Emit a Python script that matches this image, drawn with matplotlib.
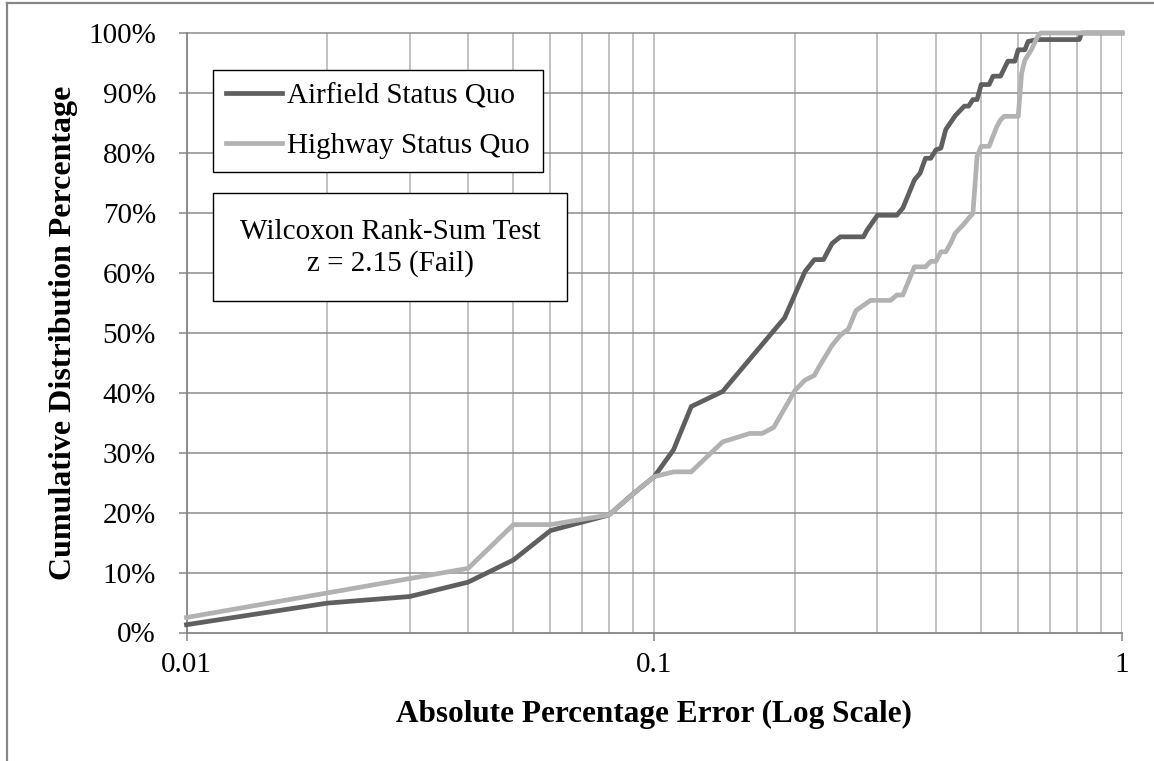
import matplotlib
matplotlib.use("Agg")
import matplotlib.pyplot as plt
from matplotlib.ticker import PercentFormatter, LogLocator, NullFormatter, FixedLocator, FixedFormatter
from matplotlib.patches import Rectangle
from matplotlib.lines import Line2D

plt.rcParams['font.family'] = ['Liberation Serif', 'DejaVu Serif']

# Datos (error absoluto, % acumulado)
airfield_x = [0.01, 0.02, 0.03, 0.04, 0.05, 0.06, 0.08, 0.09, 0.10, 0.11, 0.12, 0.14,
              0.19, 0.21, 0.22, 0.23, 0.24, 0.25, 0.28, 0.285, 0.30, 0.33, 0.34, 0.36,
              0.37, 0.38, 0.39, 0.40, 0.41, 0.42, 0.44, 0.46, 0.47, 0.48, 0.49, 0.50,
              0.52, 0.53, 0.55, 0.57, 0.59, 0.60, 0.62, 0.63, 0.66, 0.81, 0.82, 1.0]
airfield_y = [1.3, 4.9, 6.0, 8.4, 12.1, 17.0, 19.6, 23.1, 26.0, 30.5, 37.7, 40.2,
              52.5, 60.2, 62.2, 62.2, 64.9, 66.0, 66.0, 67.1, 69.6, 69.6, 70.8, 75.5,
              76.6, 79.1, 79.1, 80.5, 80.8, 83.9, 86.2, 87.8, 87.8, 88.9, 88.9, 91.4,
              91.4, 92.8, 92.8, 95.3, 95.3, 97.2, 97.2, 98.6, 98.9, 98.9, 100, 100]

highway_x = [0.01, 0.02, 0.03, 0.04, 0.05, 0.06, 0.08, 0.09, 0.10, 0.11, 0.12, 0.14,
             0.16, 0.17, 0.18, 0.20, 0.21, 0.22, 0.225, 0.24, 0.25, 0.26, 0.27, 0.29,
             0.32, 0.33, 0.34, 0.36, 0.38, 0.39, 0.40, 0.41, 0.42, 0.43, 0.44, 0.46,
             0.47, 0.48, 0.49, 0.50, 0.52, 0.54, 0.55, 0.56, 0.60, 0.61, 0.62, 0.64,
             0.66, 0.67, 1.0]
highway_y = [2.5, 6.6, 9.0, 10.7, 18.0, 18.0, 19.6, 23.1, 26.0, 26.8, 26.8, 31.8,
             33.2, 33.2, 34.2, 40.4, 42.1, 42.9, 44.3, 47.9, 49.6, 50.6, 53.7, 55.4,
             55.4, 56.3, 56.3, 61.0, 61.0, 61.9, 61.9, 63.5, 63.5, 64.9, 66.6, 68.2,
             69.1, 69.9, 79.4, 81.1, 81.1, 84.4, 85.5, 86.1, 86.1, 93.3, 95.5, 97.2,
             99.4, 100, 100]

series_labels = ['Airfield Status Quo', 'Highway Status Quo']
x_ticks = [0.01, 0.1, 1]
x_tick_labels = ['0.01', '0.1', '1']
note_text = 'Wilcoxon Rank-Sum Test\nz = 2.15 (Fail)'

W, H = 1154, 761
fig = plt.figure(figsize=(W / 100, H / 100), dpi=100)
ax = fig.add_axes([186.5 / W, 1 - 632.5 / H, (1122 - 186.5) / W, (632.5 - 33) / H])

# Rejilla
ax.set_xscale('log')
ax.set_xlim(0.01, 1)
ax.set_ylim(0, 100)
ax.xaxis.set_major_locator(FixedLocator(x_ticks))
ax.xaxis.set_major_formatter(FixedFormatter(x_tick_labels))
ax.xaxis.set_minor_locator(LogLocator(base=10, subs=range(2, 10)))
ax.xaxis.set_minor_formatter(NullFormatter())
ax.set_yticks(range(0, 101, 10))
ax.yaxis.set_major_formatter(PercentFormatter(decimals=0))

for yv in range(10, 101, 10):
    ax.axhline(yv, color='#8c8c8c', lw=1.1, zorder=1, clip_on=False)
ax.grid(True, which='both', axis='x', color='#bdbdbd', lw=1.3, zorder=1)
ax.set_axisbelow(True)

ax.plot(airfield_x, airfield_y, color='#5f5f5f', lw=3.4, label=series_labels[0],
        zorder=3, clip_on=False, solid_joinstyle='round')
ax.plot(highway_x, highway_y, color='#b2b2b2', lw=3.4, label=series_labels[1],
        zorder=3, clip_on=False, solid_joinstyle='round')

for s in ['top', 'right']:
    ax.spines[s].set_visible(False)
for s in ['left', 'bottom']:
    ax.spines[s].set_color('#868686')
    ax.spines[s].set_linewidth(1.3)

ax.tick_params(axis='y', which='major', direction='out', length=6, width=1.1,
               color='#868686', pad=16, labelsize=21)
ax.tick_params(axis='x', which='major', direction='out', length=6, width=1.1,
               color='#868686', pad=8, labelsize=21)
ax.tick_params(axis='x', which='minor', length=0)

ax.set_xlabel('Absolute Percentage Error (Log Scale)', fontsize=22.5, fontweight='bold',
              labelpad=16)
ax.set_ylabel('Cumulative Distribution Percentage', fontsize=23, fontweight='bold',
              labelpad=7)

# Leyenda
leg = ax.legend(loc='upper left', bbox_to_anchor=(213 / W, 1 - 70 / H),
                bbox_transform=fig.transFigure, borderaxespad=0, fontsize=21,
                frameon=True, fancybox=False, edgecolor='black', framealpha=1,
                handlelength=1.9, handletextpad=0.2, labelspacing=0.8,
                borderpad=0.45)
leg.get_frame().set_linewidth(1.0)

# Caja del test
fig.patches.append(Rectangle((213 / W, 1 - 301 / H), (567 - 213) / W, (301 - 193) / H,
                             transform=fig.transFigure, facecolor='white',
                             edgecolor='black', lw=1.0, zorder=5))
fig.text(390 / W, 1 - 248 / H, note_text, ha='center', va='center', fontsize=21,
         linespacing=1.2, zorder=6)

# Borde de la figura
fig.add_artist(Line2D([7 / W, 7 / W], [0, 1 - 2.5 / H], transform=fig.transFigure,
                      color='#868686', lw=1.6))
fig.add_artist(Line2D([7 / W, 1], [1 - 2.5 / H, 1 - 2.5 / H], transform=fig.transFigure,
                      color='#868686', lw=1.6))

fig.savefig('out.png', dpi=100)
